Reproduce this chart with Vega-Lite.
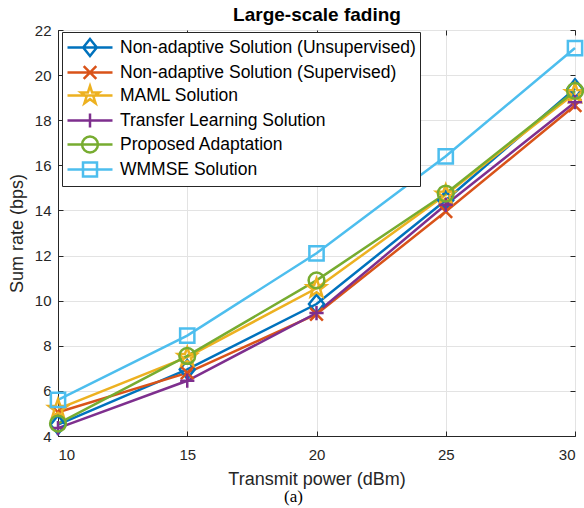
{
  "$schema": "https://vega.github.io/schema/vega-lite/v6.json",
  "autosize": "none",
  "width": 517,
  "height": 406,
  "padding": {"left": 58, "top": 30, "right": 9, "bottom": 72},
  "background": "white",
  "config": {
    "font": "Liberation Sans",
    "view": {"stroke": "#262626", "strokeWidth": 1},
    "axis": {
      "gridColor": "#e3e3e3",
      "gridWidth": 1,
      "domainColor": "#262626",
      "tickColor": "#262626",
      "labelColor": "#262626",
      "titleColor": "#262626",
      "labelFont": "Liberation Sans",
      "titleFont": "Liberation Sans",
      "labelFontSize": 15,
      "titleFontSize": 18,
      "titleFontWeight": "normal",
      "tickSize": -5
    }
  },
  "title": {
    "text": "(a)",
    "orient": "bottom",
    "font": "Liberation Serif",
    "fontSize": 17,
    "fontWeight": "normal",
    "color": "#000000",
    "anchor": "middle",
    "dx": -23,
    "offset": 1
  },
  "data": {
    "values": [
      {"x": 10, "y": 4.5, "series": "Non-adaptive Solution (Unsupervised)"},
      {"x": 15, "y": 6.95, "series": "Non-adaptive Solution (Unsupervised)"},
      {"x": 20, "y": 9.85, "series": "Non-adaptive Solution (Unsupervised)"},
      {"x": 25, "y": 14.45, "series": "Non-adaptive Solution (Unsupervised)"},
      {"x": 30, "y": 19.4, "series": "Non-adaptive Solution (Unsupervised)"},
      {"x": 10, "y": 5.05, "series": "Non-adaptive Solution (Supervised)"},
      {"x": 15, "y": 6.8, "series": "Non-adaptive Solution (Supervised)"},
      {"x": 20, "y": 9.4, "series": "Non-adaptive Solution (Supervised)"},
      {"x": 25, "y": 13.95, "series": "Non-adaptive Solution (Supervised)"},
      {"x": 30, "y": 18.65, "series": "Non-adaptive Solution (Supervised)"},
      {"x": 10, "y": 5.2, "series": "MAML Solution"},
      {"x": 15, "y": 7.5, "series": "MAML Solution"},
      {"x": 20, "y": 10.55, "series": "MAML Solution"},
      {"x": 25, "y": 14.7, "series": "MAML Solution"},
      {"x": 30, "y": 19.2, "series": "MAML Solution"},
      {"x": 10, "y": 4.35, "series": "Transfer Learning Solution"},
      {"x": 15, "y": 6.45, "series": "Transfer Learning Solution"},
      {"x": 20, "y": 9.45, "series": "Transfer Learning Solution"},
      {"x": 25, "y": 14.25, "series": "Transfer Learning Solution"},
      {"x": 30, "y": 18.8, "series": "Transfer Learning Solution"},
      {"x": 10, "y": 4.55, "series": "Proposed Adaptation"},
      {"x": 15, "y": 7.55, "series": "Proposed Adaptation"},
      {"x": 20, "y": 10.9, "series": "Proposed Adaptation"},
      {"x": 25, "y": 14.75, "series": "Proposed Adaptation"},
      {"x": 30, "y": 19.3, "series": "Proposed Adaptation"},
      {"x": 10, "y": 5.6, "series": "WMMSE Solution"},
      {"x": 15, "y": 8.45, "series": "WMMSE Solution"},
      {"x": 20, "y": 12.1, "series": "WMMSE Solution"},
      {"x": 25, "y": 16.4, "series": "WMMSE Solution"},
      {"x": 30, "y": 21.2, "series": "WMMSE Solution"}
    ]
  },
  "resolve": {"axis": {"x": "independent", "y": "independent"}},
  "layer": [
    {
      "mark": {"type": "line", "strokeWidth": 2.5},
      "encoding": {
        "x": {
          "field": "x",
          "type": "quantitative",
          "scale": {"domain": [10, 30], "nice": false, "zero": false},
          "axis": {
            "values": [10, 15, 20, 25, 30],
            "title": "Transmit power (dBm)",
            "titlePadding": 8,
            "labelPadding": 16
          }
        },
        "y": {
          "field": "y",
          "type": "quantitative",
          "scale": {"domain": [4, 22], "nice": false, "zero": false},
          "axis": {
            "values": [4, 6, 8, 10, 12, 14, 16, 18, 20, 22],
            "title": "Sum rate (bps)",
            "titlePadding": 8,
            "labelPadding": 12
          }
        },
        "color": {
          "field": "series",
          "type": "nominal",
          "scale": {
            "domain": ["Non-adaptive Solution (Unsupervised)", "Non-adaptive Solution (Supervised)", "MAML Solution", "Transfer Learning Solution", "Proposed Adaptation", "WMMSE Solution"],
            "range": ["#0072BD", "#D95319", "#EDB120", "#7E2F8E", "#77AC30", "#4DBEEE"]
          },
          "legend": {
            "title": null,
            "orient": "none",
            "legendX": 4,
            "legendY": 2,
            "fillColor": "white",
            "strokeColor": "#262626",
            "padding": 4,
            "labelFontSize": 17.5,
            "labelFont": "Liberation Sans",
            "labelColor": "#000000",
            "labelLimit": 400,
            "symbolSize": 400,
            "symbolStrokeWidth": 2.5,
            "symbolType": "M-1,0L3.5,0",
            "labelOffset": 31,
            "rowPadding": -7,
            "encode": {
              "symbols": {
                "update": {
                  "shape": {"signal": "['M-1,0L3.5,0M1.25,-0.85L1.93,0L1.25,0.85L0.57,0Z','M-1,0L3.5,0M0.62,-0.63L1.88,0.63M0.62,0.63L1.88,-0.63','M-1,0L3.5,0M1.25,-0.95L1.464,-0.294L2.153,-0.293L1.597,0.112L1.808,0.769L1.25,0.365L0.692,0.769L0.903,0.112L0.347,-0.293L1.036,-0.294Z','M-1,0L3.5,0M1.25,-0.7L1.25,0.7M0.55,0L1.95,0','M-1,0L3.5,0M0.46,0A0.79,0.79 0 1,0 2.04,0A0.79,0.79 0 1,0 0.46,0','M-1,0L3.5,0M0.55,-0.7L1.95,-0.7L1.95,0.7L0.55,0.7Z'][datum.index]"},
                  "fill": {"value": "transparent"},
                  "strokeWidth": {"value": 2.5}
                }
              }
            }
          }
        }
      }
    },
    {
      "transform": [{"filter": "datum.series === 'Non-adaptive Solution (Unsupervised)'"}],
      "mark": {"type": "point", "filled": false, "strokeWidth": 2.5, "size": 225, "opacity": 1, "color": "#0072BD", "shape": "M0,-1.25L1,0L0,1.25L-1,0Z"},
      "encoding": {
        "x": {"field": "x", "type": "quantitative", "axis": {"orient": "top", "labels": false, "grid": false, "domain": false, "title": "Large-scale fading", "titleFontWeight": "bold", "titleColor": "#000000", "titleFontSize": 19, "titlePadding": 5, "values": [10, 15, 20, 25, 30]}},
        "y": {"field": "y", "type": "quantitative", "axis": {"orient": "right", "labels": false, "grid": false, "domain": false, "title": null, "values": [4, 6, 8, 10, 12, 14, 16, 18, 20, 22]}}
      }
    },
    {
      "transform": [{"filter": "datum.series === 'Non-adaptive Solution (Supervised)'"}],
      "mark": {"type": "point", "filled": false, "strokeWidth": 2.5, "size": 225, "opacity": 1, "color": "#D95319", "shape": "M-0.85,-0.85L0.85,0.85M-0.85,0.85L0.85,-0.85"},
      "encoding": {
        "x": {"field": "x", "type": "quantitative", "axis": null},
        "y": {"field": "y", "type": "quantitative", "axis": null}
      }
    },
    {
      "transform": [{"filter": "datum.series === 'MAML Solution'"}],
      "mark": {"type": "point", "filled": false, "strokeWidth": 2.5, "size": 225, "opacity": 1, "color": "#EDB120", "shape": "M0,-1.3L0.306,-0.421L1.236,-0.402L0.494,0.161L0.764,1.052L0,0.52L-0.764,1.052L-0.494,0.161L-1.236,-0.402L-0.306,-0.421Z"},
      "encoding": {
        "x": {"field": "x", "type": "quantitative", "axis": null},
        "y": {"field": "y", "type": "quantitative", "axis": null}
      }
    },
    {
      "transform": [{"filter": "datum.series === 'Transfer Learning Solution'"}],
      "mark": {"type": "point", "filled": false, "strokeWidth": 2.5, "size": 225, "opacity": 1, "color": "#7E2F8E", "shape": "M0,-0.95L0,0.95M-0.95,0L0.95,0"},
      "encoding": {
        "x": {"field": "x", "type": "quantitative", "axis": null},
        "y": {"field": "y", "type": "quantitative", "axis": null}
      }
    },
    {
      "transform": [{"filter": "datum.series === 'Proposed Adaptation'"}],
      "mark": {"type": "point", "filled": false, "strokeWidth": 2.5, "size": 225, "opacity": 1, "color": "#77AC30", "shape": "M-1.05,0A1.05,1.05 0 1,0 1.05,0A1.05,1.05 0 1,0 -1.05,0"},
      "encoding": {
        "x": {"field": "x", "type": "quantitative", "axis": null},
        "y": {"field": "y", "type": "quantitative", "axis": null}
      }
    },
    {
      "transform": [{"filter": "datum.series === 'WMMSE Solution'"}],
      "mark": {"type": "point", "filled": false, "strokeWidth": 2.5, "size": 225, "opacity": 1, "color": "#4DBEEE", "shape": "M-0.95,-0.95L0.95,-0.95L0.95,0.95L-0.95,0.95Z"},
      "encoding": {
        "x": {"field": "x", "type": "quantitative", "axis": null},
        "y": {"field": "y", "type": "quantitative", "axis": null}
      }
    }
  ]
}
